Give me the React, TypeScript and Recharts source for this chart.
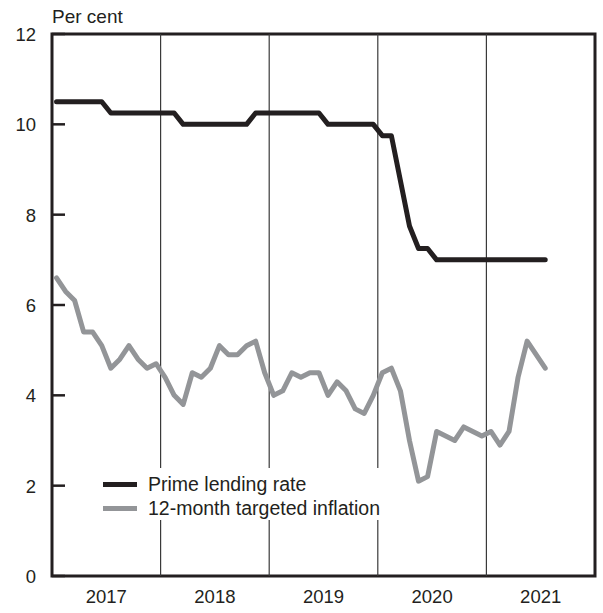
import React from 'react';
import { LineChart, Line, XAxis, YAxis, ReferenceLine, ReferenceArea } from 'recharts';

const YEARS = ['2017', '2018', '2019', '2020', '2021'];
const Y_TICKS = [0, 2, 4, 6, 8, 10, 12];
const YEAR_BREAKS = [12, 24, 36, 48];

// monthly, Jan 2017 .. Jul 2021
const PRIME_RATE = [
  10.5, 10.5, 10.5, 10.5, 10.5, 10.5, 10.25, 10.25, 10.25, 10.25, 10.25, 10.25,
  10.25, 10.25, 10.0, 10.0, 10.0, 10.0, 10.0, 10.0, 10.0, 10.0, 10.25, 10.25,
  10.25, 10.25, 10.25, 10.25, 10.25, 10.25, 10.0, 10.0, 10.0, 10.0, 10.0, 10.0,
  9.75, 9.75, 8.75, 7.75, 7.25, 7.25, 7.0, 7.0, 7.0, 7.0, 7.0, 7.0,
  7.0, 7.0, 7.0, 7.0, 7.0, 7.0, 7.0,
];

const INFLATION = [
  6.6, 6.3, 6.1, 5.4, 5.4, 5.1, 4.6, 4.8, 5.1, 4.8, 4.6, 4.7,
  4.4, 4.0, 3.8, 4.5, 4.4, 4.6, 5.1, 4.9, 4.9, 5.1, 5.2, 4.5,
  4.0, 4.1, 4.5, 4.4, 4.5, 4.5, 4.0, 4.3, 4.1, 3.7, 3.6, 4.0,
  4.5, 4.6, 4.1, 3.0, 2.1, 2.2, 3.2, 3.1, 3.0, 3.3, 3.2, 3.1,
  3.2, 2.9, 3.2, 4.4, 5.2, 4.9, 4.6,
];

const INK = '#231f20';
const GREY = '#939598';
const FONT = '"Liberation Sans", Arial, sans-serif';

const data = PRIME_RATE.map((prime, i) => ({
  x: i + 0.5,
  prime,
  inflation: INFLATION[i],
}));

const YTick = ({ x, y, payload }: any) => (
  <g>
    <line x1={x} x2={x + 13} y1={y} y2={y} stroke={INK} strokeWidth={2.5} />
    <text x={x - 16} y={y} dy="0.38em" textAnchor="end" fill={INK} fontSize={18.5} fontFamily={FONT}>
      {payload.value}
    </text>
  </g>
);

const XTick = ({ x, y, payload }: any) => (
  <text x={x} y={y + 27} textAnchor="middle" fill={INK} fontSize={18.5} fontFamily={FONT}>
    {YEARS[Math.floor(payload.value / 12)]}
  </text>
);

const AxisTitle = (props: any) => {
  const { viewBox } = props;
  return (
    <text x={viewBox.x + viewBox.width} y={viewBox.y - 11} fill={INK} fontSize={19} fontFamily={FONT}>
      Per cent
    </text>
  );
};

const LEGEND = [
  { label: 'Prime lending rate', color: INK },
  { label: '12-month targeted inflation', color: GREY },
];

export default function App() {
  return (
    <div style={{ position: 'absolute', left: 0, top: 0, width: 603, height: 613, background: '#fff' }}>
      <LineChart width={603} height={613} data={data} margin={{ top: 34, right: 8, left: 0, bottom: 0 }}>
        <XAxis
          type="number"
          dataKey="x"
          domain={[0, 60]}
          ticks={[6, 18, 30, 42, 54]}
          interval={0}
          tick={<XTick />}
          tickLine={false}
          axisLine={false}
          tickSize={0}
          tickMargin={0}
          height={37}
        />
        <YAxis
          domain={[0, 12]}
          ticks={Y_TICKS}
          interval={0}
          tick={<YTick />}
          tickLine={false}
          axisLine={false}
          tickSize={0}
          tickMargin={0}
          width={52}
          label={(p: any) => <AxisTitle {...p} />}
        />
        {YEAR_BREAKS.map((b) => (
          <ReferenceLine key={b} x={b} stroke="#3a3a3a" strokeWidth={1.2} />
        ))}
        <Line
          type="linear"
          dataKey="prime"
          stroke={INK}
          strokeWidth={5}
          dot={false}
          strokeLinecap="round"
          strokeLinejoin="round"
          isAnimationActive={false}
        />
        <Line
          type="linear"
          dataKey="inflation"
          stroke={GREY}
          strokeWidth={5}
          dot={false}
          strokeLinecap="round"
          strokeLinejoin="round"
          isAnimationActive={false}
        />
        <ReferenceArea x1={0} x2={60} y1={0} y2={12} fill="none" stroke={INK} strokeWidth={3} />
      </LineChart>
      <div
        style={{
          position: 'absolute',
          left: 98,
          top: 468,
          padding: '4px 4px 0 5px',
          background: '#fff',
          fontFamily: FONT,
          fontSize: 19.5,
          color: INK,
        }}
      >
        {LEGEND.map((item) => (
          <div key={item.label} style={{ display: 'flex', alignItems: 'center', height: 24 }}>
            <div style={{ width: 34, height: 5, background: item.color, marginRight: 11 }} />
            <span style={{ whiteSpace: 'nowrap' }}>{item.label}</span>
          </div>
        ))}
      </div>
    </div>
  );
}
